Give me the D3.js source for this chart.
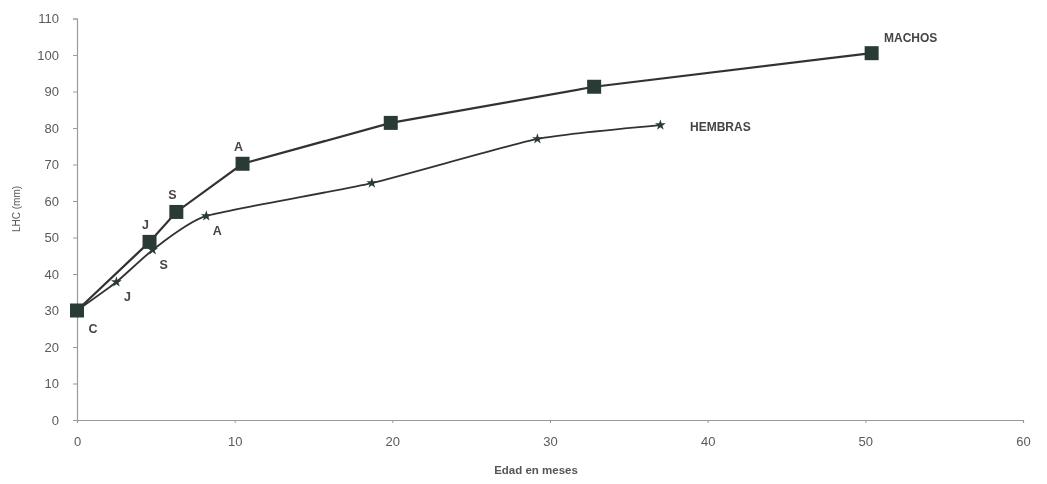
<!DOCTYPE html>
<html>
<head>
<meta charset="utf-8">
<script src="https://cdn.jsdelivr.net/npm/d3@7"></script>
<style>
  html, body { margin: 0; padding: 0; background: #fff; }
  svg { display: block; font-family: "Liberation Sans", Arial, sans-serif; }
</style>
</head>
<body>
<svg id="chart" width="1047" height="484"></svg>
<script>
// Growth in snout-vent length (LHC) by age, males vs females
const machosEdad = [0, 4.6, 6.3, 10.5, 19.9, 32.8, 50.4];
const machosLHC  = [30, 48.8, 57, 70.2, 81.4, 91.3, 100.5];
const machosEtiq = ["C", "J", "S", "A", "", "", ""];

const hembrasEdad = [0, 2.5, 4.8, 8.2, 18.7, 29.2, 37];
const hembrasLHC  = [30, 37.8, 46.6, 55.9, 64.9, 77, 80.8];
const hembrasEtiq = ["", "J", "S", "A", "", "", ""];

const xTicks = [0, 10, 20, 30, 40, 50, 60];
const yTicks = [0, 10, 20, 30, 40, 50, 60, 70, 80, 90, 100, 110];

const svg = d3.select("#chart");
const x = d3.scaleLinear().domain([0, 60]).range([77, 1023]);
const y = d3.scaleLinear().domain([0, 110]).range([420, 18.5]);

const defs = svg.append("defs");
defs.append("filter").attr("id", "soft")
  .append("feGaussianBlur").attr("stdDeviation", 0.45);

const g = svg.append("g").attr("filter", "url(#soft)");

// axes
const axisColor = "#9a9a9a";
const yAxis = g.append("g").attr("transform", `translate(${x(0)},0)`)
  .call(d3.axisLeft(y).tickValues(yTicks).tickSize(4).tickPadding(14));
const xAxis = g.append("g").attr("transform", `translate(0,${y(0)})`)
  .call(d3.axisBottom(x).tickValues(xTicks).tickSize(3).tickPadding(14));
[yAxis, xAxis].forEach(a => {
  a.select(".domain").attr("stroke", axisColor).attr("stroke-width", 1.2);
  a.selectAll(".tick line").attr("stroke", axisColor);
  a.selectAll(".tick text").attr("fill", "#5a5a5a").attr("font-size", 13);
});

g.append("text")
  .attr("transform", "translate(20,209) rotate(-90)")
  .attr("text-anchor", "middle").attr("font-size", 10).attr("fill", "#555")
  .text("LHC (mm)");
g.append("text")
  .attr("x", 536).attr("y", 474).attr("text-anchor", "middle")
  .attr("font-size", 11.5).attr("font-weight", "bold").attr("fill", "#555")
  .text("Edad en meses");

const markColor = "#2c3a36";
const lineColor = "#333";

const machos = machosEdad.map((d, i) => ({ x: d, y: machosLHC[i], l: machosEtiq[i] }));
const hembras = hembrasEdad.map((d, i) => ({ x: d, y: hembrasLHC[i], l: hembrasEtiq[i] }));

// female curve (smoothed)
g.append("path").datum(hembras)
  .attr("fill", "none").attr("stroke", lineColor).attr("stroke-width", 1.8)
  .attr("d", d3.line().x(d => x(d.x)).y(d => y(d.y)).curve(d3.curveCardinal.tension(0.5)));

// male polyline
g.append("path").datum(machos)
  .attr("fill", "none").attr("stroke", lineColor).attr("stroke-width", 2.2)
  .attr("d", d3.line().x(d => x(d.x)).y(d => y(d.y)));

// female star markers
const star = d3.symbol().type(d3.symbolStar).size(36);
g.selectAll(".star").data(hembras.slice(1)).join("path")
  .attr("transform", d => `translate(${x(d.x)},${y(d.y)})`)
  .attr("d", star).attr("fill", markColor);

// male square markers
g.selectAll(".sq").data(machos).join("rect")
  .attr("x", d => x(d.x) - 7).attr("y", d => y(d.y) - 7)
  .attr("width", 14).attr("height", 14).attr("fill", markColor);

// stage labels
const labStyle = s => s.attr("font-size", 12.5).attr("font-weight", "bold").attr("fill", "#444")
  .attr("text-anchor", "middle");
g.selectAll(".lm").data(machos.filter(d => d.l && d.l !== "C")).join("text")
  .attr("x", d => x(d.x) - 4).attr("y", d => y(d.y) - 13)
  .text(d => d.l).call(labStyle);
g.selectAll(".lh").data(hembras.filter(d => d.l)).join("text")
  .attr("x", d => x(d.x) + 11).attr("y", d => y(d.y) + 19)
  .text(d => d.l).call(labStyle);
g.append("text").attr("x", x(machos[0].x) + 16).attr("y", y(machos[0].y) + 22)
  .text(machos[0].l).call(labStyle);

// series names
g.append("text").attr("x", 884).attr("y", 42).attr("font-size", 12)
  .attr("font-weight", "bold").attr("fill", "#444").text("MACHOS");
g.append("text").attr("x", 690).attr("y", 131).attr("font-size", 12)
  .attr("font-weight", "bold").attr("fill", "#444").text("HEMBRAS");
</script>
</body>
</html>
